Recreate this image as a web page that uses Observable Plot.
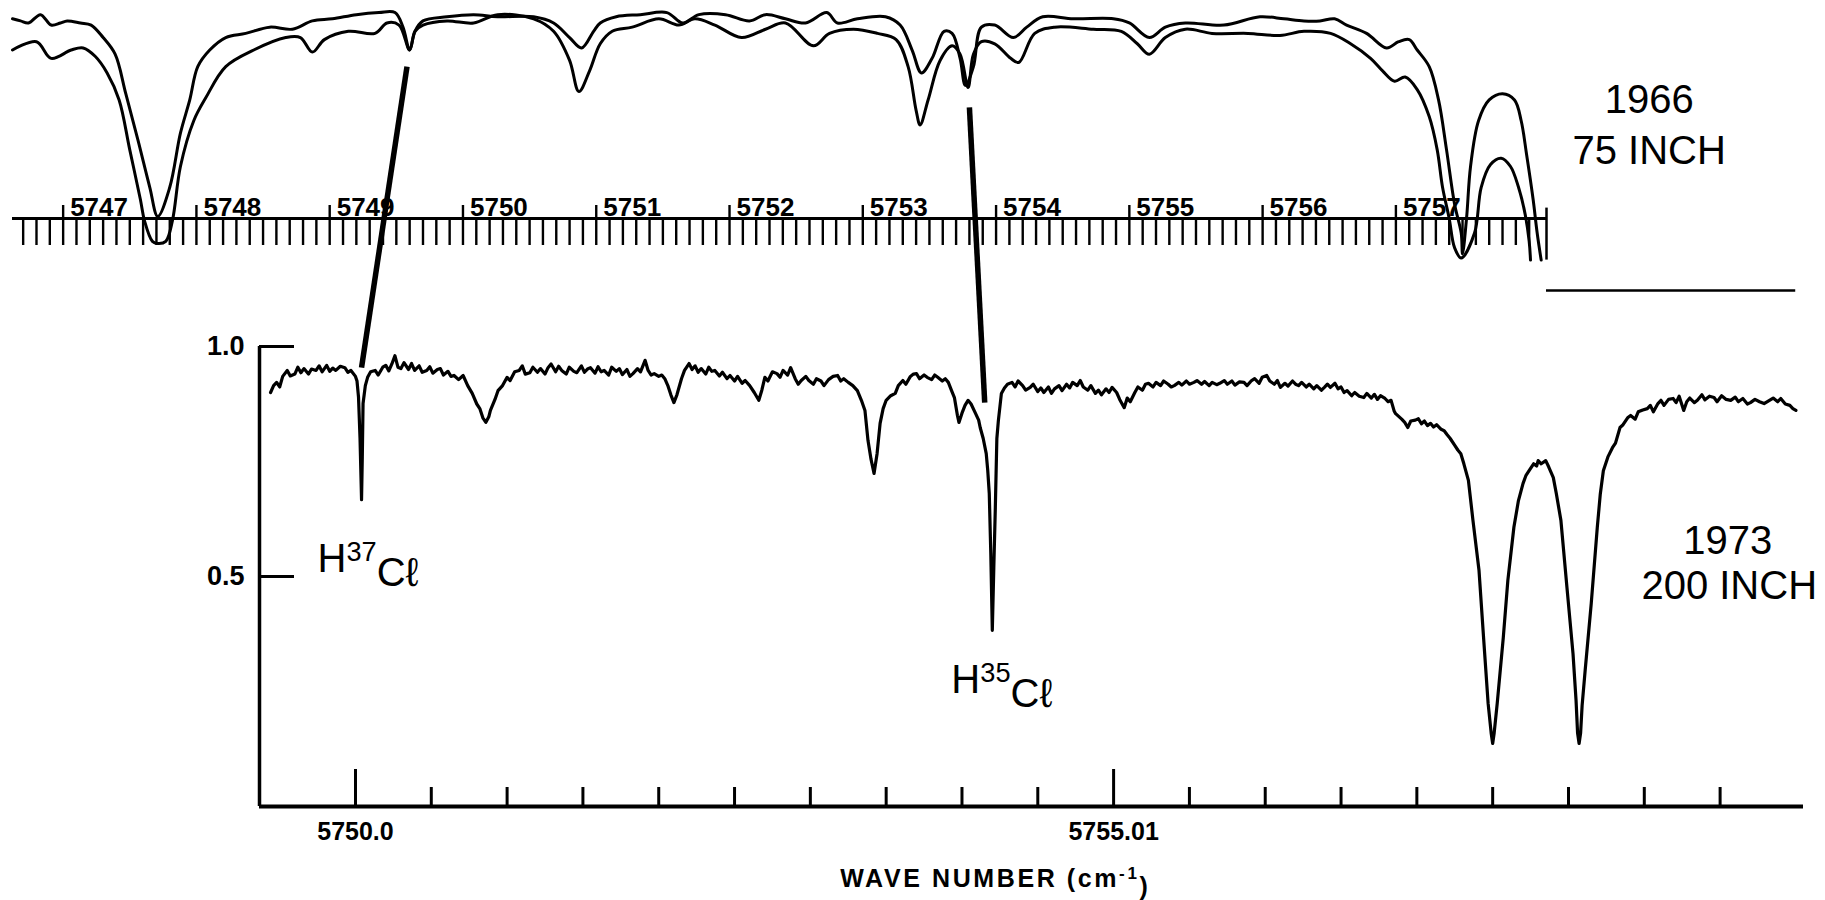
<!DOCTYPE html>
<html>
<head>
<meta charset="utf-8">
<script src="https://cdn.jsdelivr.net/npm/d3@7"></script>
<script src="https://cdn.jsdelivr.net/npm/@observablehq/plot@0.6"></script>
<style>
  html, body { margin: 0; padding: 0; background: #fff; }
  #wrap { position: relative; width: 1825px; height: 900px; background: #fff; overflow: hidden; }
  #wrap svg { position: absolute; left: 0; top: 0; }
</style>
</head>
<body>
<div id="wrap"></div>
<script>
// ---------------- DATA ----------------
// 1966, 75 inch telescope: two traces [wavenumber (1966 scale), relative signal]
const spectrum1966A = [
  [5746.62,.96],[5746.68,.95],[5746.74,.94],[5746.83,.98],[5746.91,.93],[5746.98,.94],[5747.03,.95],
  [5747.13,.94],[5747.21,.93],[5747.30,.87],[5747.39,.79],[5747.47,.60],[5747.56,.38],[5747.65,.15],
  [5747.71,.01],[5747.80,.15],[5747.88,.41],[5747.95,.57],[5748.01,.73],[5748.10,.81],[5748.22,.87],
  [5748.37,.89],[5748.55,.92],[5748.72,.91],[5748.87,.95],[5749.02,.96],[5749.20,.98],[5749.37,.99],
  [5749.49,.99],[5749.55,.92],[5749.60,.81],[5749.64,.90],[5749.70,.95],[5749.88,.97],[5750.08,.98],
  [5750.26,.97],[5750.53,.97],[5750.68,.94],[5750.80,.87],[5750.89,.82],[5750.98,.90],[5751.03,.94],
  [5751.15,.97],[5751.33,.98],[5751.53,.99],[5751.65,.94],[5751.77,.98],[5751.97,.98],[5752.15,.95],
  [5752.27,.98],[5752.42,.96],[5752.57,.94],[5752.73,.99],[5752.81,.94],[5752.96,.96],[5753.17,.97],
  [5753.28,.93],[5753.37,.81],[5753.44,.70],[5753.52,.77],[5753.61,.90],[5753.67,.89],[5753.73,.77],
  [5753.77,.64],[5753.83,.73],[5753.89,.92],[5753.99,.93],[5754.13,.87],[5754.23,.92],[5754.35,.97],
  [5754.58,.96],[5754.88,.96],[5755.00,.94],[5755.15,.87],[5755.27,.92],[5755.42,.94],[5755.71,.93],
  [5755.98,.97],[5756.16,.96],[5756.31,.95],[5756.43,.95],[5756.54,.96],[5756.63,.93],[5756.78,.89],
  [5756.93,.82],[5757.02,.85],[5757.10,.86],[5757.16,.81],[5757.25,.73],[5757.32,.57],[5757.38,.33],
  [5757.44,.07],[5757.49,-.07],[5757.50,-.17],[5757.53,.00],[5757.56,.25],[5757.62,.47],[5757.70,.57],
  [5757.80,.60],[5757.89,.57],[5757.94,.47],[5757.98,.31],[5758.03,.09],[5758.06,-.07],[5758.09,-.20]
];
const spectrum1966B = [
  [5746.62,.81],[5746.80,.85],[5746.91,.77],[5747.06,.81],[5747.15,.82],[5747.24,.78],[5747.33,.70],
  [5747.42,.57],[5747.50,.33],[5747.58,.09],[5747.61,-.01],[5747.67,-.11],[5747.71,-.12],[5747.77,-.11],
  [5747.82,-.01],[5747.88,.25],[5747.98,.47],[5748.07,.58],[5748.22,.73],[5748.43,.81],[5748.67,.87],
  [5748.78,.87],[5748.87,.80],[5748.96,.86],[5749.14,.90],[5749.34,.89],[5749.43,.94],[5749.52,.93],
  [5749.60,.81],[5749.64,.90],[5749.70,.93],[5749.88,.95],[5750.08,.94],[5750.26,.98],[5750.53,.96],
  [5750.68,.90],[5750.80,.76],[5750.87,.61],[5750.95,.71],[5751.03,.84],[5751.12,.90],[5751.27,.92],
  [5751.47,.96],[5751.62,.93],[5751.74,.96],[5751.89,.93],[5752.09,.87],[5752.27,.91],[5752.42,.94],
  [5752.63,.83],[5752.75,.89],[5752.93,.91],[5753.11,.89],[5753.25,.86],[5753.34,.73],[5753.40,.52],
  [5753.43,.45],[5753.49,.57],[5753.58,.76],[5753.67,.83],[5753.73,.79],[5753.79,.63],[5753.83,.79],
  [5753.89,.85],[5753.99,.84],[5754.11,.77],[5754.17,.75],[5754.29,.89],[5754.44,.92],[5754.73,.91],
  [5754.94,.90],[5755.06,.84],[5755.15,.79],[5755.27,.87],[5755.42,.91],[5755.62,.89],[5755.89,.89],
  [5756.13,.88],[5756.31,.90],[5756.51,.89],[5756.66,.84],[5756.81,.77],[5756.90,.71],[5756.99,.66],
  [5757.07,.68],[5757.16,.62],[5757.25,.49],[5757.31,.33],[5757.35,.15],[5757.40,.00],[5757.44,-.14],
  [5757.49,-.19],[5757.59,-.07],[5757.64,.15],[5757.71,.26],[5757.79,.29],[5757.86,.25],[5757.92,.15],
  [5757.97,.02],[5758.00,-.11],[5758.01,-.20]
];
// 1973, 200 inch telescope: [wavenumber (cm-1), transmission]
const spectrum1973 = [
  [5749.44,.900],[5749.46,.915],[5749.48,.922],[5749.50,.912],[5749.52,.935],[5749.55,.948],[5749.57,.936],
  [5749.60,.940],[5749.62,.955],[5749.64,.943],[5749.66,.952],[5749.69,.940],[5749.71,.951],[5749.74,.948],
  [5749.76,.958],[5749.78,.945],[5749.81,.959],[5749.83,.946],[5749.85,.953],[5749.87,.948],[5749.90,.957],
  [5749.93,.954],[5749.95,.944],[5749.97,.948],[5750.00,.935],[5750.01,.925],[5750.02,.890],[5750.03,.800],
  [5750.04,.667],[5750.045,.760],[5750.05,.876],[5750.065,.915],[5750.08,.933],[5750.10,.945],[5750.13,.948],
  [5750.15,.938],[5750.18,.955],[5750.20,.959],[5750.22,.947],[5750.24,.962],[5750.26,.980],[5750.28,.955],
  [5750.30,.952],[5750.32,.965],[5750.35,.950],[5750.37,.963],[5750.39,.948],[5750.42,.958],[5750.44,.944],
  [5750.47,.948],[5750.49,.956],[5750.51,.942],[5750.54,.950],[5750.56,.952],[5750.58,.938],[5750.61,.946],
  [5750.63,.935],[5750.65,.937],[5750.68,.928],[5750.71,.937],[5750.74,.915],[5750.77,.898],[5750.80,.875],
  [5750.82,.865],[5750.84,.845],[5750.86,.835],[5750.88,.848],[5750.89,.861],[5750.92,.885],[5750.94,.904],
  [5750.97,.915],[5751.00,.933],[5751.02,.926],[5751.05,.945],[5751.08,.948],[5751.10,.958],[5751.12,.940],
  [5751.15,.943],[5751.17,.955],[5751.20,.944],[5751.22,.952],[5751.25,.940],[5751.27,.954],[5751.29,.962],
  [5751.32,.945],[5751.34,.957],[5751.36,.948],[5751.39,.940],[5751.41,.955],[5751.44,.946],[5751.46,.943],
  [5751.49,.958],[5751.51,.944],[5751.53,.951],[5751.55,.954],[5751.58,.942],[5751.60,.956],[5751.62,.945],
  [5751.64,.948],[5751.67,.938],[5751.69,.955],[5751.72,.946],[5751.74,.952],[5751.76,.939],[5751.79,.950],
  [5751.81,.935],[5751.83,.941],[5751.86,.952],[5751.88,.945],[5751.91,.970],[5751.93,.948],[5751.95,.938],
  [5751.97,.941],[5752.00,.935],[5752.02,.938],[5752.04,.930],[5752.06,.915],[5752.08,.895],[5752.10,.878],
  [5752.12,.895],[5752.15,.930],[5752.17,.948],[5752.20,.963],[5752.22,.950],[5752.24,.958],[5752.26,.944],
  [5752.28,.952],[5752.31,.940],[5752.33,.955],[5752.35,.946],[5752.37,.948],[5752.40,.936],[5752.42,.944],
  [5752.45,.930],[5752.47,.937],[5752.50,.925],[5752.52,.935],[5752.55,.920],[5752.57,.926],[5752.60,.915],
  [5752.63,.900],[5752.66,.883],[5752.68,.905],[5752.70,.933],[5752.72,.925],[5752.75,.945],[5752.78,.941],
  [5752.80,.933],[5752.82,.948],[5752.85,.938],[5752.87,.954],[5752.90,.930],[5752.92,.918],[5752.94,.926],
  [5752.97,.935],[5752.99,.926],[5753.02,.918],[5753.04,.930],[5753.07,.925],[5753.09,.915],[5753.12,.928],
  [5753.15,.935],[5753.18,.937],[5753.20,.925],[5753.22,.930],[5753.25,.922],[5753.28,.915],[5753.31,.904],
  [5753.34,.880],[5753.36,.861],[5753.38,.796],[5753.40,.755],[5753.42,.724],[5753.44,.767],[5753.46,.833],
  [5753.48,.865],[5753.50,.883],[5753.53,.893],[5753.56,.898],[5753.58,.915],[5753.61,.926],[5753.63,.918],
  [5753.66,.935],[5753.68,.940],[5753.70,.941],[5753.72,.930],[5753.75,.938],[5753.77,.933],[5753.80,.928],
  [5753.82,.938],[5753.84,.933],[5753.87,.925],[5753.89,.930],[5753.91,.922],[5753.93,.905],[5753.95,.889],
  [5753.97,.850],[5753.98,.835],[5754.00,.855],[5754.02,.872],[5754.04,.883],[5754.06,.875],[5754.09,.854],
  [5754.11,.840],[5754.12,.824],[5754.14,.800],[5754.16,.767],[5754.17,.730],[5754.18,.680],[5754.19,.550],
  [5754.20,.383],[5754.21,.520],[5754.22,.650],[5754.23,.800],[5754.24,.839],[5754.26,.898],[5754.28,.910],
  [5754.30,.918],[5754.33,.922],[5754.35,.912],[5754.37,.925],[5754.40,.915],[5754.42,.905],[5754.45,.911],
  [5754.47,.918],[5754.50,.902],[5754.52,.910],[5754.54,.900],[5754.57,.912],[5754.59,.898],[5754.61,.908],
  [5754.64,.915],[5754.66,.904],[5754.69,.918],[5754.71,.910],[5754.73,.922],[5754.76,.915],[5754.78,.926],
  [5754.80,.912],[5754.83,.905],[5754.85,.915],[5754.88,.898],[5754.90,.905],[5754.92,.895],[5754.95,.908],
  [5754.97,.900],[5754.99,.911],[5755.02,.900],[5755.04,.885],[5755.07,.867],[5755.09,.888],[5755.11,.880],
  [5755.14,.900],[5755.16,.912],[5755.19,.905],[5755.21,.918],[5755.23,.920],[5755.26,.912],[5755.28,.922],
  [5755.31,.915],[5755.33,.925],[5755.36,.918],[5755.38,.912],[5755.40,.915],[5755.43,.922],[5755.45,.916],
  [5755.48,.925],[5755.50,.918],[5755.53,.922],[5755.55,.926],[5755.58,.918],[5755.60,.924],[5755.63,.915],
  [5755.65,.922],[5755.68,.917],[5755.70,.920],[5755.73,.926],[5755.75,.918],[5755.78,.925],[5755.80,.916],
  [5755.83,.923],[5755.86,.922],[5755.88,.915],[5755.91,.926],[5755.93,.930],[5755.96,.920],[5755.98,.933],
  [5756.01,.937],[5756.03,.925],[5756.06,.918],[5756.08,.926],[5756.10,.911],[5756.13,.920],[5756.15,.914],
  [5756.18,.925],[5756.20,.918],[5756.22,.915],[5756.24,.922],[5756.27,.912],[5756.29,.918],[5756.32,.908],
  [5756.34,.915],[5756.37,.905],[5756.39,.911],[5756.41,.918],[5756.43,.911],[5756.46,.920],[5756.48,.908],
  [5756.50,.912],[5756.52,.900],[5756.54,.904],[5756.57,.893],[5756.59,.900],[5756.62,.892],[5756.65,.889],
  [5756.67,.898],[5756.70,.888],[5756.72,.896],[5756.74,.885],[5756.76,.893],[5756.79,.887],[5756.81,.880],
  [5756.83,.883],[5756.85,.860],[5756.86,.854],[5756.88,.848],[5756.90,.842],[5756.92,.835],[5756.94,.824],
  [5756.96,.838],[5756.99,.840],[5757.01,.843],[5757.03,.832],[5757.05,.838],[5757.07,.828],[5757.09,.833],
  [5757.11,.825],[5757.13,.830],[5757.16,.820],[5757.18,.817],[5757.20,.808],[5757.22,.800],[5757.25,.785],
  [5757.27,.775],[5757.29,.767],[5757.31,.745],[5757.34,.709],[5757.37,.622],[5757.41,.513],[5757.44,.367],
  [5757.47,.224],[5757.49,.160],[5757.50,.137],[5757.51,.160],[5757.53,.224],[5757.57,.367],[5757.60,.491],
  [5757.64,.607],[5757.67,.665],[5757.70,.702],[5757.72,.720],[5757.75,.735],[5757.77,.745],[5757.79,.740],
  [5757.80,.752],[5757.82,.745],[5757.85,.752],[5757.87,.738],[5757.90,.715],[5757.92,.680],[5757.95,.622],
  [5757.99,.476],[5758.03,.332],[5758.05,.230],[5758.06,.160],[5758.07,.137],[5758.08,.160],[5758.09,.220],
  [5758.11,.296],[5758.15,.441],[5758.19,.607],[5758.21,.680],[5758.23,.730],[5758.26,.760],[5758.29,.780],
  [5758.31,.790],[5758.34,.824],[5758.36,.830],[5758.39,.845],[5758.41,.850],[5758.44,.842],[5758.46,.858],
  [5758.49,.862],[5758.52,.865],[5758.54,.872],[5758.56,.858],[5758.59,.876],[5758.61,.883],[5758.63,.872],
  [5758.66,.885],[5758.69,.887],[5758.71,.878],[5758.73,.892],[5758.76,.861],[5758.78,.880],[5758.80,.888],
  [5758.83,.878],[5758.85,.883],[5758.88,.895],[5758.90,.884],[5758.93,.892],[5758.96,.889],[5758.98,.880],
  [5759.01,.893],[5759.04,.885],[5759.07,.883],[5759.10,.890],[5759.12,.880],[5759.15,.887],[5759.18,.875],
  [5759.20,.878],[5759.23,.885],[5759.26,.880],[5759.29,.876],[5759.32,.882],[5759.35,.888],[5759.38,.880],
  [5759.40,.887],[5759.43,.875],[5759.46,.872],[5759.48,.865],[5759.50,.861]
];
// Lines linking the same HCl feature in both spectra: 1966 end [wavenumber, signal], 1973 end [wavenumber, transmission]
const linkTop1966 = [[5749.58, 0.73], [5753.80, 0.534]];
const linkBottom1973 = [[5750.04, 0.954], [5754.15, 0.878]];
// Zero level of the 1966 record (right side)
const zeroLevel1966 = [-0.346];

// Axis ticks and labels
const topMajorTicks = [5747, 5748, 5749, 5750, 5751, 5752, 5753, 5754, 5755, 5756, 5757];
const topTickLabels = ["5747", "5748", "5749", "5750", "5751", "5752", "5753", "5754", "5755", "5756", "5757"];
const topMinorTicks = d3.range(57467, 57581).map(d => d / 10);
const bottomMajorTicks = [5750, 5755];
const bottomTickLabels = ["5750.0", "5755.01"];
const bottomMinorTicks = d3.range(11501, 11519).map(d => d / 2).filter(d => d !== 5755);
const yTicks = [0.5, 1.0];
const yTickLabels = ["0.5", "1.0"];

// Annotation texts
const labelTop = ["1966", "75 INCH"];
const labelBottom = ["1973", "200 INCH"];
const lineNames = ["H\u00B3\u2077C\u2113", "H\u00B3\u2075C\u2113"];
const xAxisTitle = "WAVE NUMBER (cm\u207B\u00B9)";

// ---------------- DRAWING ----------------
const FONT = "'Liberation Sans', Arial, Helvetica, sans-serif";
const W = 1825;
const topX = [5746.62, 5758.13];
const botX = [5749.367, 5759.55];

const topPlot = Plot.plot({
  width: W, height: 300,
  marginTop: 10, marginLeft: 12, marginRight: 279, marginBottom: 82,
  x: {domain: topX},
  y: {domain: [0, 1], axis: null},
  style: {background: "transparent", overflow: "visible", fontFamily: FONT, color: "black"},
  marks: [
    Plot.ruleY([0], {stroke: "black", strokeWidth: 3}),
    Plot.axisX({anchor: "bottom", ticks: topMinorTicks, tickSize: 27, tickFormat: () => "", strokeWidth: 2.4, label: null}),
    Plot.axisX({anchor: "bottom", ticks: topMajorTicks, tickSize: -13, tickFormat: () => "", strokeWidth: 2.4, label: null}),
    Plot.text(topMajorTicks, {x: d => d, text: (d, i) => topTickLabels[i], frameAnchor: "bottom",
      textAnchor: "start", lineAnchor: "bottom", dx: 7, dy: -3, fontSize: 26, fontWeight: "bold", fill: "black"}),
    Plot.ruleX([topX[1]], {y1: 0.05, y2: -0.2, strokeWidth: 2.5}),
    Plot.ruleY(zeroLevel1966, {x1: topX[1], x2: 5760.0, strokeWidth: 2.5}),
    Plot.line(spectrum1966A, {x: d => d[0], y: d => d[1], stroke: "black", strokeWidth: 3, curve: "catmull-rom"}),
    Plot.line(spectrum1966B, {x: d => d[0], y: d => d[1], stroke: "black", strokeWidth: 3, curve: "catmull-rom"}),
    Plot.text([labelTop[0]], {x: 5758.9, y: 0.505, text: d => d, textAnchor: "middle", lineAnchor: "bottom", fontSize: 40, fill: "black"}),
    Plot.text([labelTop[1]], {x: 5758.9, y: 0.26, text: d => d, textAnchor: "middle", lineAnchor: "bottom", fontSize: 40, fill: "black"})
  ]
});

function bottomOptions(extraMarks) {
  return {
    width: W, height: 900,
    marginTop: 346, marginLeft: 259, marginRight: 22, marginBottom: 94,
    x: {domain: botX},
    y: {domain: [0, 1]},
    style: {background: "transparent", overflow: "visible", fontFamily: FONT, color: "black"},
    marks: [
      Plot.ruleY([0], {stroke: "black", strokeWidth: 4}),
      Plot.ruleX([botX[0]], {y1: 0, y2: 1, stroke: "black", strokeWidth: 3.5}),
      Plot.axisY({ticks: yTicks, tickSize: -35, tickFormat: () => "", strokeWidth: 3, label: null}),
      Plot.axisY({ticks: yTicks, tickSize: 0, tickPadding: 15, tickFormat: d => yTickLabels[yTicks.indexOf(d)],
        fontSize: 27, fontWeight: "bold", label: null}),
      Plot.axisX({ticks: bottomMinorTicks, tickSize: -19, tickFormat: () => "", strokeWidth: 3, label: null}),
      Plot.axisX({ticks: bottomMajorTicks, tickSize: -37, tickFormat: () => "", strokeWidth: 3, label: null}),
      Plot.axisX({ticks: bottomMajorTicks, tickSize: 0, tickPadding: 16,
        tickFormat: d => bottomTickLabels[bottomMajorTicks.indexOf(d)], fontSize: 25, fontWeight: "bold", label: null}),
      Plot.text([xAxisTitle], {x: 5754.22, frameAnchor: "bottom", dy: 80, text: d => d, lineAnchor: "bottom",
        fontSize: 25, fontWeight: "bold", fill: "black"}),
      Plot.line(spectrum1973, {x: d => d[0], y: d => d[1], stroke: "black", strokeWidth: 3.2}),
      Plot.text([lineNames[0]], {x: 5749.75, y: 0.509, text: d => d, textAnchor: "start", lineAnchor: "bottom", fontSize: 40, fill: "black"}),
      Plot.text([lineNames[1]], {x: 5753.93, y: 0.246, text: d => d, textAnchor: "start", lineAnchor: "bottom", fontSize: 40, fill: "black"}),
      Plot.text([labelBottom[0]], {x: 5759.05, y: 0.55, text: d => d, textAnchor: "middle", lineAnchor: "bottom", fontSize: 40, fill: "black"}),
      Plot.text([labelBottom[1]], {x: 5759.06, y: 0.452, text: d => d, textAnchor: "middle", lineAnchor: "bottom", fontSize: 40, fill: "black"}),
      ...extraMarks
    ]
  };
}

// First pass to obtain the bottom panel's scales, then map the 1966 link ends through both panels' scales
const probe = Plot.plot(bottomOptions([]));
const tX = topPlot.scale("x"), tY = topPlot.scale("y");
const bX = probe.scale("x"), bY = probe.scale("y");
const links = linkTop1966.map((t, i) => ({
  x1: bX.invert(tX.apply(t[0])), y1: bY.invert(tY.apply(t[1])),
  x2: linkBottom1973[i][0], y2: linkBottom1973[i][1]
}));
const bottomPlot = Plot.plot(bottomOptions([
  Plot.link(links, {x1: "x1", y1: "y1", x2: "x2", y2: "y2", stroke: "black", strokeWidth: 5.5, strokeLinecap: "butt"})
]));

// Typeset superscripts (e.g. 37, 35, -1) as raised smaller tspans, keeping real text
const SUP = {"\u00B3": "3", "\u2077": "7", "\u2075": "5", "\u207B": "-", "\u00B9": "1"};
function typesetSuperscripts(svg, scale, shift) {
  d3.select(svg).selectAll("text").each(function () {
    const el = this;
    if (el.querySelector("tspan")) return;
    const s = el.textContent;
    if (![...s].some(c => SUP[c])) return;
    const runs = [];
    for (const c of s) {
      const sup = !!SUP[c];
      const ch = sup ? SUP[c] : c;
      if (runs.length && runs[runs.length - 1].sup === sup) runs[runs.length - 1].t += ch;
      else runs.push({sup, t: ch});
    }
    el.textContent = "";
    const sel = d3.select(el);
    let raised = false;
    for (const r of runs) {
      const ts = sel.append("tspan").text(r.t);
      if (r.sup && !raised) { ts.attr("dy", `-${shift}em`).attr("font-size", `${scale * 100}%`); raised = true; }
      else if (r.sup) { ts.attr("font-size", `${scale * 100}%`); }
      else if (raised) { ts.attr("dy", `${shift / scale}em`); raised = false; }
    }
  });
}
typesetSuperscripts(bottomPlot, 0.68, 0.42);

// Letter spacing of the axis title
d3.select(bottomPlot).selectAll("text").filter(function () { return this.textContent.startsWith("WAVE"); })
  .attr("letter-spacing", "2.6px");

const wrap = document.getElementById("wrap");
wrap.appendChild(bottomPlot);
wrap.appendChild(topPlot);
</script>
</body>
</html>
